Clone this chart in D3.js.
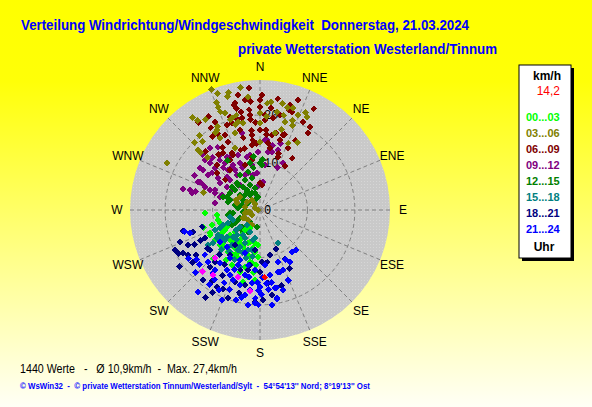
<!DOCTYPE html>
<html>
<head>
<meta charset="utf-8">
<script src="https://cdn.jsdelivr.net/npm/d3@7"></script>
<style>
  html, body { margin: 0; padding: 0; }
  body { width: 592px; height: 407px; overflow: hidden; }
  svg { display: block; font-family: Arial, "Liberation Sans", sans-serif; }
  svg text { white-space: pre; }
</style>
</head>
<body>
<svg id="chart" width="592" height="407"></svg>
<script>
// ---- data ----------------------------------------------------------------
const titleLine1 = "Verteilung Windrichtung/Windgeschwindigkeit  Donnerstag, 21.03.2024";
const titleLine2 = "private Wetterstation Westerland/Tinnum";
const statsLine = "1440 Werte   -   \u00D8 10,9km/h  -  Max. 27,4km/h";
const copyLine = "\u00A9 WsWin32  -  \u00A9 private Wetterstation Tinnum/Westerland/Sylt  -  54\u00B054'13'' Nord; 8\u00B019'13'' Ost";

const directionLabels = ["N", "NNE", "NE", "ENE", "E", "ESE", "SE", "SSE",
                         "S", "SSW", "SW", "WSW", "W", "WNW", "NW", "NNW"];
const ringTicks = [0, 10, 20];
const maxSpeed = 27.4;            // km/h, outer edge of the rose
const currentValue = [176, 14.2]; // [direction deg, km/h], the red mark

const hourLabels = ["00...03", "03...06", "06...09", "09...12",
                    "12...15", "15...18", "18...21", "21...24"];
const hourColors = ["#00ff00", "#808000", "#800000", "#800080",
                    "#008000", "#008080", "#000080", "#0000ff"];

// each point: [direction in degrees, speed in km/h]
const h00_03 = [[263,9.1],[253,10.6],[252,8.9],[243,7.8],[243,11.8],[239,9.4],[228,10.5],[217,11.1],
  [208,10.3],[207,8.3],[200,7.4],[189,7.0],[187,8.9],[192,10.1],[195,12.4],[190,14.4],[193,15.6],
  [186,13.2],[182,9.9],[209,4.3],[216,6.5],[215,8.5],[207,13.0],[267,11.6],[253,12.5],[245,11.6],
  [220,8.8],[205,8.6],[225,11.0],[217,5.3],[197,7.1],[194,12.6],[189,11.3],[257,9.1],[224,14.2],
  [230,8.2],[205,11.1],[184,11.6],[213,9.6],[195,9.8],[240,8.5],[225,8.9],[229,7.0],[214,7.6],
  [201,9.0],[191,11.2],[190,8.1],[214,12.7],[236,11.4],[198,13.7],[184,14.8],[211,11.1],[229,11.2],
  [183,7.4]];
const h03_06 = [[303,5.0],[261,2.6],[238,2.0],[292,1.1],[270,0.4],[281,3.2],[287,5.1],[245,4.0],
  [214,3.8],[302,3.2],[259,2.1],[320,1.6],[208,3.6],[242,3.6],[314,17.4],[315,15.6],[287,12.5],
  [338,27.4],[340,26.2],[345,25.6],[344,24.8],[351,26.1],[338,24.5],[338,23.4],[338,22.3],[340,21.7],
  [343,20.3],[346,20.6],[346,19.1],[349,18.7],[344,18.7],[342,20.0],[324,24.1],[325,23.0],[329,22.2],
  [316,19.8],[321,20.2],[333,19.7],[332,19.1],[330,18.8],[331,17.4],[342,17.1],[0,18.3],[0,20.4],
  [0,14.3],[4,19.7],[4,22.6],[10,21.0],[14,20.6],[16,19.3],[20,20.1],[18,22.6],[12,23.0],[21,19.1],
  [22,21.6],[25,22.7],[23,15.3],[29,16.3],[15,17.5],[11,16.5],[314,18.2],[338,14.1],[297,22.0],
  [320,18.8],[27,22.0],[6,22.9],[15,22.4],[354,23.9],[259,3.2],[293,5.5],[321,2.7],[230,3.3]];
const h06_09 = [[355,25.8],[347,23.2],[347,22.0],[349,21.1],[355,22.9],[354,21.2],[354,20.1],[354,19.1],
  [354,16.9],[354,15.9],[354,14.8],[0,21.7],[0,16.9],[4,16.9],[5,15.9],[12,16.6],[18,16.7],[16,23.0],
  [18,21.7],[16,21.9],[31,20.4],[32,19.1],[32,12.9],[333,20.8],[331,22.5],[325,22.5],[331,18.5],
  [335,15.8],[329,15.3],[327,18.4],[317,16.8],[323,14.6],[334,13.4],[342,13.3],[347,15.6],[342,19.3],
  [339,19.2],[3,19.0],[8,19.6],[7,14.2],[18,12.6],[357,14.1],[353,13.8],[24,14.3],[351,10.7],
  [346,17.4],[357,18.4],[349,19.8],[346,19.6],[3,20.1],[360,23.2],[9,23.7],[28,24.2],[30,10.7],
  [17,16.5],[16,15.3],[9,16.0],[342,20.6],[346,22.8],[327,14.3],[334,12.9],[329,12.3],[311,12.0],
  [323,10.5],[320,7.5],[0,5.7],[5,5.3],[351,11.3],[19,11.8],[316,13.1],[342,10.0],[311,9.7],
  [352,23.4],[6,21.6],[12,20.5],[19,24.5],[26,20.6],[27,16.5],[9,13.2],[346,13.4],[335,17.4],
  [329,20.2],[349,24.7],[1,24.2]];
const h09_12 = [[313,14.5],[305,14.7],[304,13.2],[313,13.0],[295,14.0],[286,14.2],[294,13.1],[294,10.4],
  [304,10.2],[291,10.1],[292,8.6],[305,8.5],[315,9.8],[327,8.8],[338,9.7],[350,9.6],[342,8.2],
  [337,10.8],[346,11.5],[328,13.2],[324,14.3],[318,14.9],[355,7.8],[8,12.3],[358,12.2],[329,11.1],
  [319,11.8],[284,14.8],[305,15.4],[294,14.3],[286,15.3],[293,12.6],[308,12.8],[6,5.9],[353,4.9],
  [349,7.5],[6,14.8],[22,9.7],[2,10.5],[288,8.9],[279,9.6],[326,16.0],[331,12.8],[347,16.7],
  [4,14.8],[11,13.9],[17,14.7],[17,13.2],[12,12.5],[26,11.0],[6,9.5],[321,16.8],[314,16.8],
  [317,14.9],[327,10.8],[323,12.4],[321,13.5],[285,16.8],[315,8.9],[321,6.7],[328,9.9],[337,8.0],
  [307,11.1],[292,11.4],[321,10.8],[312,15.7],[298,15.6],[350,11.8],[338,12.5],[306,7.3]];
const h12_15 = [[327,5.0],[326,3.8],[301,4.2],[275,4.7],[264,5.7],[248,4.5],[300,2.9],[333,2.4],
  [335,4.0],[300,7.3],[289,8.3],[284,7.0],[324,6.0],[319,7.0],[309,7.6],[338,5.7],[0,9.9],[3,9.5],
  [2,10.5],[264,6.4],[243,5.9],[218,5.9],[227,5.2],[242,6.7],[215,4.4],[220,3.3],[344,3.7],[351,2.8],
  [324,4.7],[347,4.8],[320,7.5],[288,6.7],[292,7.5],[190,3.6],[209,5.3],[228,5.7],[246,5.1],
  [247,6.4],[353,11.3],[3,10.6],[327,12.5],[348,10.1],[351,9.0],[343,8.4],[333,7.1],[346,7.0],
  [307,5.3],[270,3.2],[286,3.9],[281,5.4],[261,6.8],[263,3.6],[309,6.7],[315,4.5],[330,8.5]];
const h15_18 = [[257,6.5],[248,8.4],[250,6.1],[230,5.5],[221,4.2],[235,9.8],[237,10.8],[225,8.0],
  [214,6.4],[235,12.1],[208,8.9],[221,10.3],[239,10.3],[231,9.0],[223,7.2],[204,7.6],[191,8.6],
  [202,9.7],[207,11.8],[189,10.0],[190,6.0],[151,7.9],[199,12.7],[193,6.5],[230,6.6],[248,7.3],
  [218,8.0],[197,8.8],[216,10.9],[224,11.6],[236,13.2],[229,9.7],[219,9.4],[208,6.7],[209,9.6],
  [246,10.4],[204,5.1],[246,9.2],[196,10.5]];
const h18_21 = [[254,12.7],[252,14.9],[255,16.8],[248,18.2],[245,19.8],[241,18.6],[238,17.9],[235,20.7],
  [232,18.0],[183,19.4],[178,19.0],[174,15.5],[158,8.9],[153,11.6],[172,11.1],[178,11.0],[205,18.4],
  [209,18.6],[214,17.9],[234,13.7],[221,16.0],[214,11.4],[198,13.3],[190,11.8],[222,12.7],[216,9.1],
  [187,8.5],[213,13.7],[231,13.5],[243,14.1],[242,15.6],[219,19.0],[194,18.0],[172,18.1],[153,13.8],
  [191,16.1],[212,21.7],[242,19.5],[221,14.5],[210,15.9],[199,16.1],[191,12.9],[180,13.1],[244,16.9],
  [235,16.5],[243,13.0],[168,9.7],[164,16.5],[200,19.7],[210,20.0]];
const h21_24 = [[223,17.7],[217,16.6],[203,20.6],[192,18.9],[183,18.6],[183,19.6],[168,16.8],[169,18.9],
  [158,15.9],[164,13.6],[153,11.8],[161,11.6],[175,15.5],[180,16.2],[182,15.2],[189,14.3],[201,15.8],
  [209,14.4],[217,14.0],[232,17.0],[236,18.2],[226,18.9],[214,19.0],[217,21.7],[202,11.4],[199,9.6],
  [222,10.5],[231,10.8],[252,15.5],[254,16.5],[143,11.1],[158,16.0],[169,19.1],[169,16.7],[162,13.7],
  [203,13.7],[193,14.1],[175,11.6],[187,17.0],[201,18.0],[213,17.5],[195,16.4],[171,13.9],[231,15.0],
  [212,11.9],[185,12.7],[179,17.9],[164,17.5],[207,18.9],[187,20.2],[205,15.1],[190,18.2],[181,16.9],
  [174,16.9],[171,15.4],[178,14.3],[186,15.5],[202,12.5],[206,17.1],[217,15.8],[225,15.5],[228,17.2],
  [159,13.5],[150,12.7],[138,11.3],[192,11.9],[181,20.0],[173,20.2],[195,19.6]];
const magentaMarks = [[223,17.7],[216,16.9],[187,17.2],[198,14.9],[223,13.9]];

const series = [h00_03, h03_06, h06_09, h09_12, h12_15, h15_18, h18_21, h21_24];
// drawing order (index into series), later groups lie on top
const drawOrder = [3, 2, 4, 1, 0, 5, 6, 7];

// ---- layout ----------------------------------------------------------------
const cx = 260, cy = 210, outerR = 130;

const svg = d3.select("#chart");
const defs = svg.append("defs");

const grad = defs.append("linearGradient")
  .attr("id", "bg").attr("x1", 0).attr("y1", 0).attr("x2", 0).attr("y2", 1);
grad.append("stop").attr("offset", "0").attr("stop-color", "#ffff00");
grad.append("stop").attr("offset", "0.2").attr("stop-color", "#ffff08");
grad.append("stop").attr("offset", "1").attr("stop-color", "#fffff6");

const pat = defs.append("pattern")
  .attr("id", "dots").attr("width", 3).attr("height", 3)
  .attr("patternUnits", "userSpaceOnUse");
pat.append("rect").attr("width", 3).attr("height", 3).attr("fill", "#c9c9c9");
pat.append("rect").attr("x", 1).attr("y", 1).attr("width", 1).attr("height", 1).attr("fill", "#d6d6d6");

svg.append("rect").attr("width", 592).attr("height", 407).attr("fill", "url(#bg)");

// titles
svg.append("text")
  .attr("x", 21).attr("y", 30)
  .attr("textLength", 448).attr("lengthAdjust", "spacingAndGlyphs")
  .attr("fill", "#0000ff").style("font-size", "14px").style("font-weight", "bold")
  .text(titleLine1);
svg.append("text")
  .attr("x", 238).attr("y", 54)
  .attr("textLength", 259).attr("lengthAdjust", "spacingAndGlyphs")
  .attr("fill", "#0000ff").style("font-size", "14px").style("font-weight", "bold")
  .text(titleLine2);

// scales
const rScale = d3.scaleLinear().domain([0, maxSpeed]).range([0, outerR]);
const aScale = d3.scaleLinear().domain([0, 360]).range([0, 2 * Math.PI]);
const px = d => cx + rScale(d[1]) * Math.sin(aScale(d[0]));
const py = d => cy - rScale(d[1]) * Math.cos(aScale(d[0]));

const rose = svg.append("g");

rose.append("circle")
  .attr("cx", cx).attr("cy", cy).attr("r", outerR)
  .attr("fill", "url(#dots)");

// dashed grid: spokes and rings
const dirAngles = directionLabels.map((d, i) => i * 22.5);
rose.selectAll(".spoke")
  .data(dirAngles)
  .enter()
  .append("line")
  .attr("x1", cx).attr("y1", cy)
  .attr("x2", a => cx + outerR * Math.sin(aScale(a)))
  .attr("y2", a => cy - outerR * Math.cos(aScale(a)))
  .attr("stroke", "#808080")
  .attr("stroke-dasharray", "4,3");

rose.selectAll(".ring")
  .data(ringTicks.filter(t => t > 0))
  .enter()
  .append("circle")
  .attr("cx", cx).attr("cy", cy)
  .attr("r", t => rScale(t))
  .attr("fill", "none")
  .attr("stroke", "#808080")
  .attr("stroke-dasharray", "4,3");

rose.selectAll(".ringLabel")
  .data(ringTicks)
  .enter()
  .append("text")
  .attr("x", cx + 4)
  .attr("y", t => cy - rScale(t))
  .attr("dy", "0.36em")
  .attr("fill", "#000")
  .style("font-family", "'Liberation Mono', 'DejaVu Sans Mono', monospace")
  .style("font-size", "12px")
  .text(t => t);

// direction labels
svg.selectAll(".dirLabel")
  .data(directionLabels)
  .enter()
  .append("text")
  .attr("x", (d, i) => cx + 143 * Math.sin(aScale(dirAngles[i])))
  .attr("y", (d, i) => cy - 143 * Math.cos(aScale(dirAngles[i])))
  .attr("dy", "0.36em")
  .attr("text-anchor", "middle")
  .attr("fill", "#000")
  .style("font-size", "12px")
  .text(d => d);

// points
const diamond = d3.symbol().type(d3.symbolSquare).size(24)();
const marks = rose.append("g").attr("shape-rendering", "crispEdges");

drawOrder.forEach(k => {
  marks.selectAll(null)
    .data(series[k])
    .enter()
    .append("path")
    .attr("d", diamond)
    .attr("transform", d => `translate(${px(d)},${py(d)}) rotate(45)`)
    .attr("fill", hourColors[k]);
});

marks.selectAll(null)
  .data(magentaMarks)
  .enter()
  .append("path")
  .attr("d", diamond)
  .attr("transform", d => `translate(${px(d)},${py(d)}) rotate(45)`)
  .attr("fill", "#ff00ff");

marks.append("path")
  .datum(currentValue)
  .attr("d", diamond)
  .attr("transform", d => `translate(${px(d)},${py(d)}) rotate(45)`)
  .attr("fill", "#ff0000");

// legend box
const lx = 519, ly = 65, lw = 52, lh = 193;
svg.append("rect").attr("x", lx + 3).attr("y", ly + 3).attr("width", lw).attr("height", lh).attr("fill", "#000");
svg.append("rect").attr("x", lx).attr("y", ly).attr("width", lw).attr("height", lh)
  .attr("fill", "#fff").attr("stroke", "#000");

svg.append("text").attr("x", 547).attr("y", 76).attr("dy", "0.36em")
  .attr("text-anchor", "middle").style("font-size", "12px").style("font-weight", "bold")
  .text("km/h");
svg.append("text").attr("x", 560).attr("y", 91).attr("dy", "0.36em")
  .attr("text-anchor", "end").attr("fill", "#ff0000").style("font-size", "12px")
  .text(String(currentValue[1]).replace(".", ","));

svg.selectAll(".legItem")
  .data(hourLabels)
  .enter()
  .append("text")
  .attr("x", 526)
  .attr("y", (d, i) => 117 + i * 16)
  .attr("dy", "0.36em")
  .attr("fill", (d, i) => hourColors[i])
  .style("font-size", "11px").style("font-weight", "bold")
  .text(d => d);

svg.append("text").attr("x", 544).attr("y", 247).attr("dy", "0.36em")
  .attr("text-anchor", "middle").style("font-size", "12px").style("font-weight", "bold")
  .text("Uhr");

// footer
svg.append("text").attr("x", 20).attr("y", 369).attr("dy", "0.36em")
  .attr("textLength", 217).attr("lengthAdjust", "spacingAndGlyphs")
  .style("font-size", "12px").attr("fill", "#000")
  .text(statsLine);
svg.append("text").attr("x", 20).attr("y", 386).attr("dy", "0.36em")
  .attr("textLength", 350).attr("lengthAdjust", "spacingAndGlyphs")
  .style("font-size", "9px").style("font-weight", "bold").attr("fill", "#0000ff")
  .text(copyLine);
</script>
</body>
</html>
